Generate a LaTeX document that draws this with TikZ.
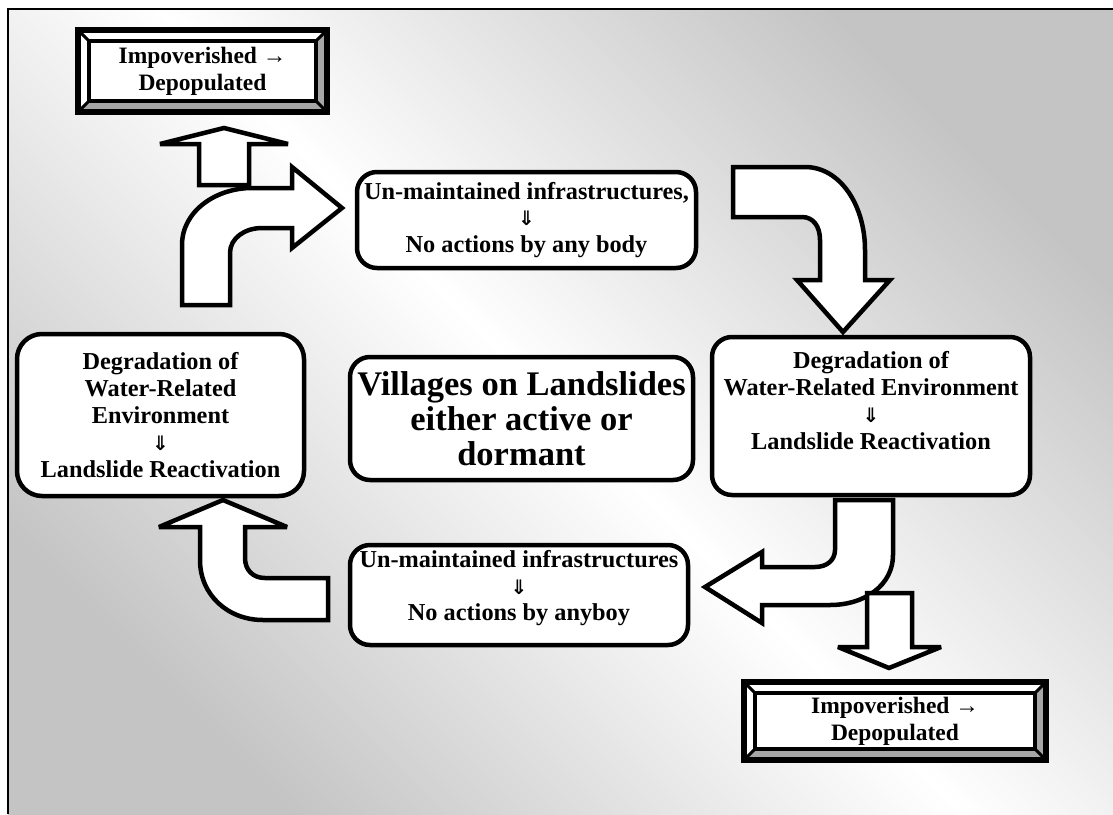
\documentclass[tikz,border=0pt]{standalone}
\usepackage{fontspec}
\setmainfont{Liberation Serif}
\newfontfamily\symfont{DejaVu Sans}
\usetikzlibrary{calc}
\definecolor{bggray}{RGB}{196,196,196}
\definecolor{bevelgray}{RGB}{166,166,166}
\newcommand\dnarrow{{\symfont\fontsize{20}{20}\selectfont ⇓}}

\tikzset{
  every node/.style={font=\fontsize{23.5}{27}\selectfont\bfseries},
  roundbox/.style={draw, line width=4.5pt, rounded corners=20pt, fill=white,
    align=center, inner sep=0pt, font=\fontsize{24.3}{26.8}\selectfont\bfseries},
  titlebox/.style={roundbox, font=\fontsize{34.5}{35}\selectfont\bfseries},
  blockarrow/.style={draw, line width=4.5pt, fill=white, line join=miter, miter limit=4},
  bevelbox/.style={fill=bevelgray, inner sep=0pt, align=center,
    path picture={
      \coordinate (bvSW) at (path picture bounding box.south west);
      \coordinate (bvNE) at (path picture bounding box.north east);
      \coordinate (bvNW) at (path picture bounding box.north west);
      \coordinate (bvSE) at (path picture bounding box.south east);
      % light bevel on the top and left sides
      \fill[white] (bvSW) -- (bvNW) -- (bvNE) -- ([shift={(-14,-14)}]bvNE)
        -- ([shift={(14,-14)}]bvNW) -- ([shift={(14,14)}]bvSW) -- cycle;
      % face of the frame
      \fill[white] ([shift={(14,14)}]bvSW) rectangle ([shift={(-14,-14)}]bvNE);
      % outer and inner outlines
      \draw[line width=6pt] ([shift={(3,3)}]bvSW) rectangle ([shift={(-3,-3)}]bvNE);
      \draw[line width=4pt] ([shift={(14,14)}]bvSW) rectangle ([shift={(-14,-14)}]bvNE);
      % mitred corners
      \draw[line width=3pt] ([shift={(3,3)}]bvSW) -- ([shift={(14,14)}]bvSW);
      \draw[line width=3pt] ([shift={(3,-3)}]bvNW) -- ([shift={(14,-14)}]bvNW);
      \draw[line width=3pt] ([shift={(-3,-3)}]bvNE) -- ([shift={(-14,-14)}]bvNE);
      \draw[line width=3pt] ([shift={(-3,3)}]bvSE) -- ([shift={(-14,14)}]bvSE);
    }},
}

\begin{document}
\begin{tikzpicture}[x=1pt,y=1pt]
\useasboundingbox (0,0) rectangle (1113,-814);

% slide background: grey corners, white along the main diagonal
\shade[top color=bggray, bottom color=bggray, middle color=white, shading angle=-45]
  (8,-9) rectangle (1113,-814);
\draw[line width=2pt] (8,-814) -- (8,-9) -- (1113,-9);

% block arrows
\draw[blockarrow] (199,-185) -- (199,-144) -- (160,-144) -- (224,-128)
  -- (288,-144) -- (249,-144) -- (249,-185) -- cycle;

\draw[blockarrow] (182,-305) -- (182,-245)
  .. controls (182,-211) and (216,-188) .. (252,-188)
  -- (292,-188) -- (292,-167) -- (342,-208) -- (292,-248) -- (292,-228)
  -- (262,-228) .. controls (245,-228) and (230,-238) .. (230,-253)
  -- (230,-305) -- cycle;

\draw[blockarrow] (733,-167) -- (805,-167)
  .. controls (840,-167) and (865,-205) .. (865,-250)
  -- (865,-280) -- (890,-280) -- (843,-332) -- (797,-280) -- (820,-280)
  -- (820,-240) .. controls (820,-226) and (813,-217) .. (802,-217)
  -- (733,-217) -- cycle;

\draw[blockarrow] (893,-500) -- (893,-555)
  .. controls (893,-585) and (865,-605) .. (830,-605)
  -- (762,-605) -- (762,-623) -- (705,-587) -- (762,-552) -- (762,-567)
  -- (815,-567) .. controls (827,-567) and (835,-560) .. (835,-550)
  -- (835,-500) -- cycle;

\draw[blockarrow] (867,-593) -- (867,-647) -- (838,-647) -- (889,-668)
  -- (941,-647) -- (912,-647) -- (912,-593) -- cycle;

\draw[blockarrow] (328,-578) -- (265,-578)
  .. controls (253,-578) and (245,-570) .. (245,-558)
  -- (245,-527) -- (287,-527) -- (223,-500) -- (159,-527) -- (200,-527)
  -- (200,-560) .. controls (200,-595) and (228,-620) .. (263,-620)
  -- (328,-620) -- cycle;

% bevelled outcome frames
\node[bevelbox, minimum width=255, minimum height=88] (poorTop) at (202.5,-71)
  {Impoverished →\\Depopulated};
\node[bevelbox, minimum width=308, minimum height=84] (poorBottom) at (895,-721)
  {Impoverished →\\Depopulated};

% rounded process boxes
\node[roundbox, minimum width=339, minimum height=96] (infraTop) at (526.5,-220)
  {Un-maintained infrastructures,\\\dnarrow\\No actions by any body};
\node[roundbox, rounded corners=25pt, minimum width=287, minimum height=162]
  (degLeft) at (160.5,-415)
  {Degradation of\\Water-Related\\Environment\\\dnarrow\\Landslide Reactivation};
\node[titlebox, minimum width=343, minimum height=123] (villages) at (521.5,-418.5)
  {Villages on Landslides\\either active or\\dormant};
\node[roundbox, minimum width=318, minimum height=158, text depth=31pt]
  (degRight) at (871,-416)
  {Degradation of\\Water-Related Environment\\\dnarrow\\Landslide Reactivation};
\node[roundbox, minimum width=338, minimum height=100, text depth=19pt]
  (infraBottom) at (519,-595)
  {Un-maintained infrastructures\\\dnarrow\\No actions by anyboy};
\end{tikzpicture}
\end{document}
